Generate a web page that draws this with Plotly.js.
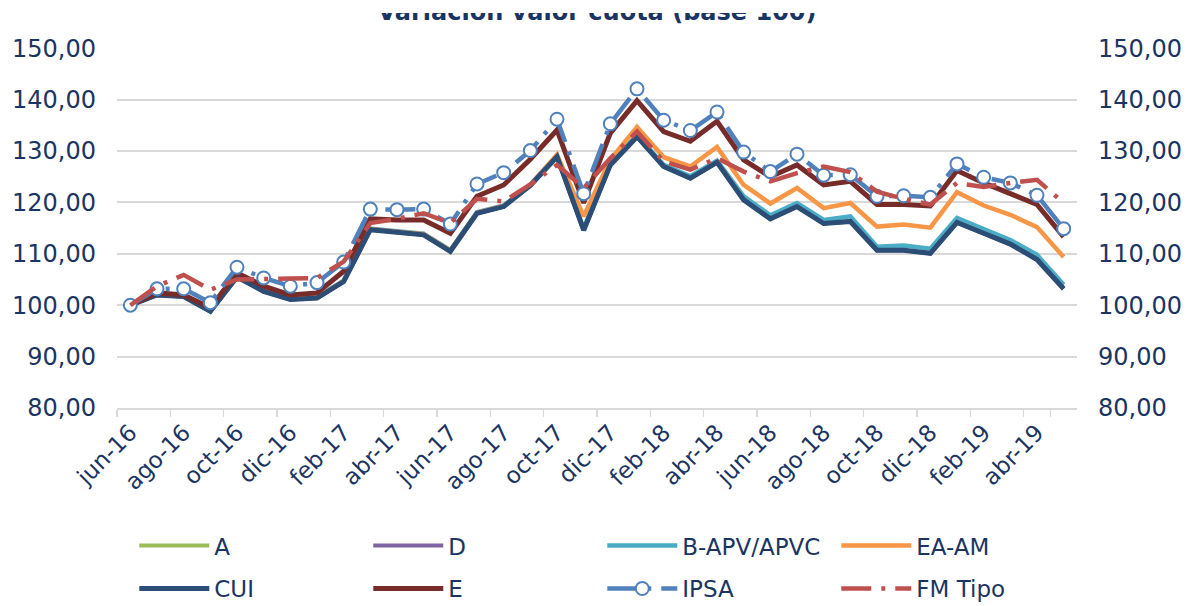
<!DOCTYPE html>
<html>
<head>
<meta charset="utf-8">
<script src="https://cdn.plot.ly/plotly-3.0.1.min.js"></script>
<style>
  html, body { margin: 0; padding: 0; background: #ffffff; }
  #chart { width: 1192px; height: 606px; }
</style>
</head>
<body>
<div id="chart"></div>
<script>
// Months, jun-16 .. may-19
let months = [
    'jun-16', 'jul-16', 'ago-16', 'sep-16', 'oct-16', 'nov-16', 'dic-16',
    'ene-17', 'feb-17', 'mar-17', 'abr-17', 'may-17', 'jun-17', 'jul-17', 'ago-17', 'sep-17', 'oct-17', 'nov-17', 'dic-17',
    'ene-18', 'feb-18', 'mar-18', 'abr-18', 'may-18', 'jun-18', 'jul-18', 'ago-18', 'sep-18', 'oct-18', 'nov-18', 'dic-18',
    'ene-19', 'feb-19', 'mar-19', 'abr-19', 'may-19'
];

// Tick labels shown on the axis (every second month)
let tickMonths = [
    'jun-16', 'ago-16', 'oct-16', 'dic-16', 'feb-17', 'abr-17', 'jun-17', 'ago-17', 'oct-17',
    'dic-17', 'feb-18', 'abr-18', 'jun-18', 'ago-18', 'oct-18', 'dic-18', 'feb-19', 'abr-19'
];

let chartTitle = 'Variación valor cuota (base 100)';

// Series values (base 100)
let serieA = [100.0, 102.0, 101.7, 98.8, 105.5, 102.7, 101.1, 101.4, 104.6, 114.7, 114.2, 113.7, 110.5, 117.9, 119.2, 123.3, 128.9, 114.6,
    127.3, 132.8, 127.0, 124.7, 127.8, 120.5, 116.8, 119.2, 115.9, 116.3, 110.7, 110.7, 110.1, 116.1, 114.0, 111.9, 108.9, 103.2];
let serieD = [100.0, 102.0, 101.7, 98.8, 105.5, 102.7, 101.1, 101.4, 104.6, 114.7, 114.2, 113.7, 110.5, 117.9, 119.2, 123.3, 128.9, 114.6,
    127.3, 132.8, 127.0, 124.7, 127.8, 120.5, 116.8, 119.2, 115.9, 116.3, 110.7, 110.7, 110.1, 116.1, 114.0, 111.9, 108.9, 103.2];
let serieB = [100.0, 102.2, 101.9, 99.0, 105.7, 102.9, 101.3, 101.6, 104.8, 114.9, 114.4, 113.9, 110.7, 118.1, 119.4, 123.5, 129.1, 114.9,
    127.6, 133.1, 127.3, 125.1, 128.1, 121.2, 117.5, 119.9, 116.6, 117.3, 111.4, 111.6, 111.0, 117.0, 114.8, 112.7, 109.8, 104.0];
let serieEA = [100.0, 102.1, 101.8, 98.9, 105.6, 102.8, 101.2, 101.5, 104.7, 114.8, 114.3, 113.8, 110.6, 118.0, 119.3, 123.4, 129.3, 117.3,
    128.3, 134.7, 128.8, 127.0, 130.8, 123.4, 119.8, 122.8, 118.9, 119.9, 115.3, 115.7, 115.1, 122.0, 119.4, 117.6, 115.2, 109.4];
let serieCUI = [100.0, 102.0, 101.7, 98.8, 105.5, 102.7, 101.1, 101.4, 104.6, 114.7, 114.2, 113.7, 110.5, 117.9, 119.2, 123.3, 128.9, 114.6,
    127.3, 132.8, 127.0, 124.7, 127.8, 120.5, 116.8, 119.2, 115.9, 116.3, 110.7, 110.7, 110.1, 116.1, 114.0, 111.9, 108.9, 103.2];
let serieE = [100.0, 102.4, 102.0, 99.5, 106.3, 103.7, 102.0, 102.4, 106.6, 116.8, 116.6, 116.6, 114.0, 121.2, 123.4, 128.4, 134.1, 119.9,
    133.5, 139.8, 133.8, 131.9, 135.8, 128.3, 125.0, 127.3, 123.4, 124.1, 119.6, 119.6, 119.3, 126.2, 123.8, 121.8, 119.6, 113.3];
let serieIPSA = [100.0, 103.2, 103.2, 100.5, 107.4, 105.3, 103.7, 104.4, 108.4, 118.7, 118.6, 118.7, 115.8, 123.6, 125.8, 130.1, 136.2, 121.7,
    135.3, 142.1, 136.0, 134.0, 137.6, 129.8, 126.0, 129.4, 125.3, 125.4, 121.2, 121.3, 121.0, 127.5, 124.9, 123.8, 121.4, 114.9];
let serieFM = [100.0, 103.7, 105.9, 103.0, 105.0, 105.2, 105.2, 105.3, 108.5, 116.0, 116.8, 117.9, 116.0, 120.7, 120.2, 123.5, 127.3, 122.8,
    128.6, 133.8, 128.0, 126.4, 128.6, 126.0, 124.1, 125.7, 127.0, 125.9, 122.1, 120.7, 119.6, 123.8, 123.0, 123.8, 124.4, 119.9];

// Text colour used by Excel for axis and legend
let navy = '#1b3563';
let fontFamily = 'Verdana, "DejaVu Sans", sans-serif';

// Plot area in pixels: top 48.3, bottom 408.3; the paper starts at 13px so the title can be cut
let paperTop = 13;
function py(pixel) { return (408.3 - pixel) / (408.3 - paperTop); }

// Helper to build one line trace
function lineTrace(name, y, color, width, legend, extra) {
    let trace = {
        x: months,
        y: y,
        name: name,
        type: 'scatter',
        mode: 'lines',
        line: { color: color, width: width },
        legend: legend,
        hoverinfo: 'none'
    };
    return Object.assign(trace, extra || {});
}

let traces = [
    lineTrace('A', serieA, '#9bbb59', 4, 'legend'),
    lineTrace('D', serieD, '#8064a2', 4, 'legend'),
    lineTrace('B-APV/APVC', serieB, '#4bacc6', 4.5, 'legend'),
    lineTrace('EA-AM', serieEA, '#f79646', 4.5, 'legend'),
    lineTrace('CUI', serieCUI, '#2c4d75', 5, 'legend2'),
    lineTrace('E', serieE, '#772c2a', 5, 'legend2'),
    lineTrace('IPSA', serieIPSA, '#4f81bd', 4.5, 'legend2', {
        mode: 'lines+markers',
        line: { color: '#4f81bd', width: 4.5, dash: '30px,10px,4px,10px' },
        marker: { symbol: 'circle', size: 13, color: '#ffffff', line: { color: '#4f81bd', width: 2 } }
    }),
    lineTrace('FM Tipo', serieFM, '#c0504d', 4.5, 'legend2', {
        line: { color: '#c0504d', width: 4.5, dash: '30px,10px,4px,10px' }
    })
];

// right axis needs a trace to be drawn
traces.push({ x: [], y: [], yaxis: 'y2', type: 'scatter', mode: 'lines', showlegend: false, hoverinfo: 'none' });

// title as clipped text in its own small subplot, so its top is cut like in the original
traces.push({
    x: [0.5], y: [0.975], text: ['<b>' + chartTitle + '</b>'],
    xaxis: 'x3', yaxis: 'y3',
    type: 'scatter', mode: 'text', textposition: 'middle center',
    textfont: { family: fontFamily, size: 24, color: navy },
    cliponaxis: true, showlegend: false, hoverinfo: 'none'
});

let yAxisCommon = {
    range: [80, 150],
    dtick: 10,
    tick0: 80,
    tickformat: '.2f',
    ticks: '',
    ticklabelstandoff: 20,
    tickfont: { family: fontFamily, size: 24, color: navy },
    zeroline: false,
    showline: false,
    fixedrange: true,
    domain: [0, py(48.3)]
};

let legendCommon = {
    orientation: 'h',
    xanchor: 'left',
    yanchor: 'middle',
    x: 0.018,
    entrywidth: 149,
    itemwidth: 70,
    font: { family: fontFamily, size: 23, color: navy },
    bgcolor: 'rgba(0,0,0,0)',
    itemclick: false,
    itemdoubleclick: false
};

let hiddenAxis = { range: [0, 1], visible: false, fixedrange: true };

let layout = {
    width: 1192,
    height: 606,
    autosize: false,
    separators: ',.',
    paper_bgcolor: '#ffffff',
    plot_bgcolor: '#ffffff',
    margin: { l: 117, r: 115, t: paperTop, b: 198, pad: 0, autoexpand: false },
    showlegend: true,
    legend: Object.assign({}, legendCommon, { y: py(546) }),
    legend2: Object.assign({}, legendCommon, { y: py(589) }),
    xaxis: {
        type: 'category',
        range: [-0.5, 35.5],
        tickmode: 'array',
        tickvals: tickMonths,
        ticktext: tickMonths,
        tickson: 'boundaries',
        ticks: 'outside',
        ticklen: 7,
        tickwidth: 1.5,
        tickcolor: '#d9d9d9',
        tickangle: -45,
        tickfont: { family: fontFamily, size: 23, color: navy },
        showgrid: false,
        showline: true,
        linecolor: '#d9d9d9',
        linewidth: 2,
        fixedrange: true
    },
    yaxis: Object.assign({}, yAxisCommon, {
        showgrid: true,
        gridcolor: '#d9d9d9',
        gridwidth: 2
    }),
    yaxis2: Object.assign({}, yAxisCommon, {
        overlaying: 'y',
        side: 'right',
        showgrid: false
    }),
    xaxis3: Object.assign({}, hiddenAxis, { anchor: 'y3', domain: [0, 1] }),
    yaxis3: Object.assign({}, hiddenAxis, { anchor: 'x3', domain: [py(40), 1] })
};

Plotly.newPlot('chart', traces, layout, { displayModeBar: false, staticPlot: true });
</script>
</body>
</html>
